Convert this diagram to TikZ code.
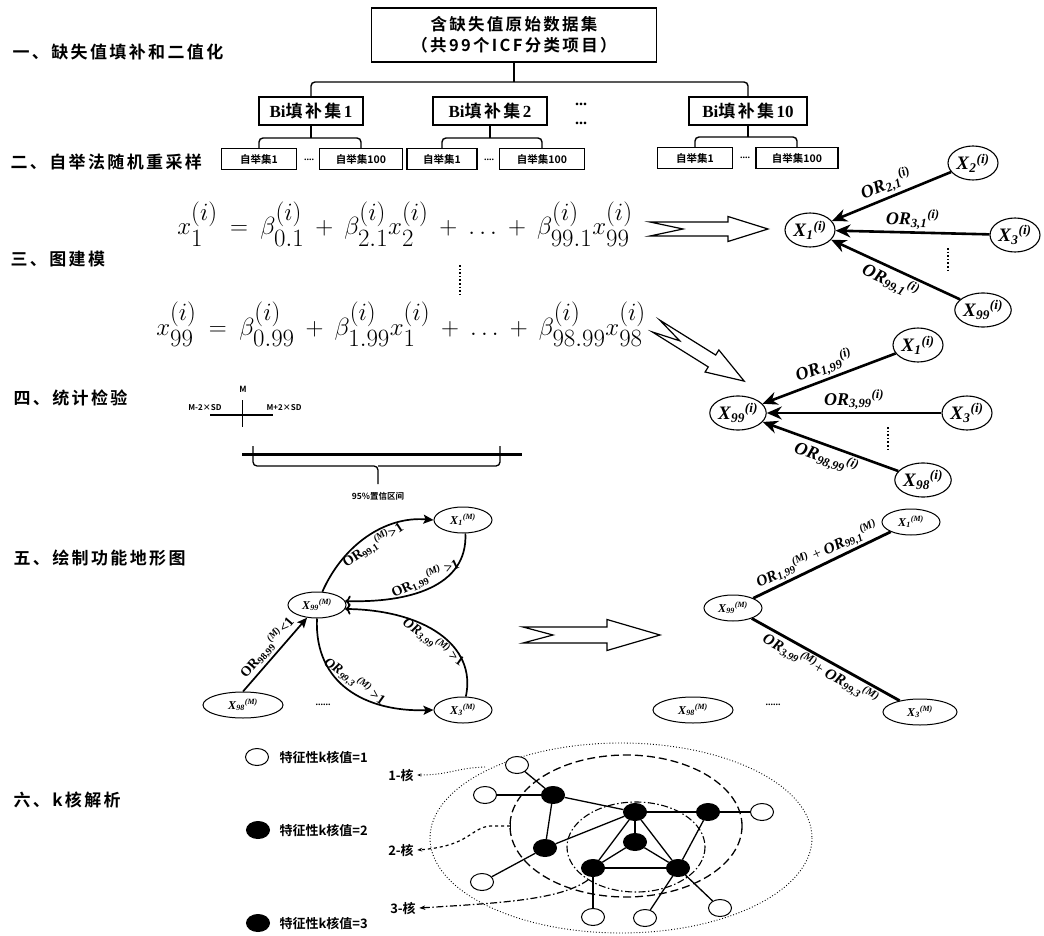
\documentclass[tikz,border=0pt]{standalone}
\usepackage{amsmath}
\usepackage{fontspec}
\setmainfont{Liberation Serif}
\newfontfamily\cjk{Noto Sans CJK SC}[BoldFont={Noto Sans CJK SC Bold}]
\newfontfamily\cjksec{Noto Sans CJK SC}[BoldFont={Noto Sans CJK SC Bold},LetterSpace=14]
\usetikzlibrary{arrows.meta,shapes.geometric,positioning}

% variable and odds-ratio labels
\newcommand\xv[2]{$\textbf{\textit{X}}_{\textbf{\textit{#1}}}{}^{\textbf{\textit{(#2)}}}$}
\newcommand\orv[2]{$\textbf{\textit{OR}}_{\textbf{\textit{#1}}}{}^{\textbf{\textit{(#2)}}}$}
\newcommand\oru[2]{$\textbf{OR}_{\textbf{#1}}{}^{\textbf{\textit{(#2)}}}$}
\newcommand\widemath{\medmuskip=8mu\relax\thickmuskip=9mu\relax}

\tikzset{
  seclabel/.style={anchor=west, font=\fontsize{17}{20}\cjksec\bfseries},
  rawbox/.style={draw, line width=1.5pt, minimum width=285pt, minimum height=54pt, align=center,
    font=\fontsize{16.5}{21}\cjksec\bfseries},
  bibox/.style={draw, line width=1.5pt, minimum height=28pt, inner xsep=4pt},
  bsbox/.style={draw, line width=1.3pt, minimum height=21pt, font=\fontsize{10.5}{10}\cjk\bfseries},
  bracket/.style={line width=1.4pt, rounded corners=4pt},
  hollow/.style={line width=1.2pt, fill=white, line join=miter},
  varnode/.style={draw, ellipse, line width=1.1pt, inner sep=0pt, minimum width=50pt, minimum height=34pt,
    font=\fontsize{19}{19}\selectfont},
  orarrow/.style={line width=2.6pt, {Stealth[length=15pt,width=13pt]}-},
  orlabel/.style={font=\fontsize{18}{18}\selectfont, inner sep=2pt},
  mnode/.style={draw, ellipse, line width=1pt, inner sep=0pt, minimum width=58pt, minimum height=26pt,
    font=\fontsize{12}{12}\selectfont},
  marrow/.style={line width=1.7pt, -{Stealth[length=10pt,width=9pt,inset=2pt]}},
  mlabel/.style={font=\fontsize{14}{14}\selectfont, inner sep=1.5pt},
  slabel/.style={font=\fontsize{15.5}{15}\selectfont, inner sep=1.5pt},
  sumline/.style={line width=2.8pt},
  eqn/.style={anchor=base, font=\fontsize{37}{40}\selectfont\widemath},
  kone/.style={draw, ellipse, line width=1pt, fill=white, minimum width=23pt, minimum height=17pt, inner sep=0pt},
  kcore/.style={kone, fill=black},
  kedge/.style={line width=1.3pt},
  legtext/.style={font=\fontsize{13}{13}\cjk\bfseries},
  dashdot/.style={dash pattern=on 7pt off 2.5pt on 1.5pt off 2.5pt},
}

\begin{document}
\begin{tikzpicture}[x=1pt, y=-1pt]
  \useasboundingbox (0,0) rectangle (1044,936);

  % section titles
  \node[seclabel] (s1) at (9,52) {一、缺失值填补和二值化};
  \node[seclabel] (s2) at (7,162) {二、自举法随机重采样};
  \node[seclabel] (s3) at (7,259) {三、图建模};
  \node[seclabel] (s4) at (10,398) {四、统计检验};
  \node[seclabel] (s5) at (10,558) {五、绘制功能地形图};
  \node[seclabel] (s6) at (10,800) {六、k核解析};

  % imputation tree
  \node[rawbox] (raw) at (514,35) {含缺失值原始数据集\\（共99个ICF分类项目）};
  \node[bibox, minimum width=104pt] (bi1) at (311,111) {\fontsize{17}{17}\selectfont\textbf{Bi}{\cjksec\bfseries 填补集}\textbf{1}};
  \node[bibox, minimum width=114pt] (bi2) at (490,111) {\fontsize{17}{17}\selectfont\textbf{Bi}{\cjksec\bfseries 填补集}\textbf{2}};
  \node[bibox, minimum width=118pt] (bi10) at (748,111) {\fontsize{17}{17}\selectfont\textbf{Bi}{\cjksec\bfseries 填补集}\textbf{10}};
  \coordinate (j0) at (514,82);
  \draw[bracket] (bi1.north) |- (j0) -| (bi10.north);
  \draw[bracket] (raw.south) -- (j0);
  \node[font=\bfseries\fontsize{16}{16}\selectfont] (more1) at (581,104) {...};
  \node[font=\bfseries\fontsize{16}{16}\selectfont] (more2) at (581,123) {...};

  % bootstrap samples
  \node[bsbox, minimum width=75pt] (bs11) at (259,159) {自举集1};
  \node[bsbox, minimum width=83pt] (bs12) at (361,159) {自举集100};
  \node[bsbox, minimum width=70pt] (bs21) at (442,159) {自举集1};
  \node[bsbox, minimum width=85pt] (bs22) at (542,159) {自举集100};
  \node[bsbox, minimum width=75pt] (bs31) at (695,158) {自举集1};
  \node[bsbox, minimum width=82pt] (bs32) at (797,158) {自举集100};
  \node[font=\bfseries] (dt1) at (309,160) {....};
  \node[font=\bfseries] (dt2) at (489,160) {....};
  \node[font=\bfseries] (dt3) at (745,158) {....};
  \coordinate (j1) at (311,138);
  \coordinate (j2) at (490,138);
  \coordinate (j3) at (748,137);
  \draw[bracket] (bs11.north) |- (j1) -| (bs12.north);
  \draw[bracket] (bi1.south) -- (j1);
  \draw[bracket] (bs21.north) |- (j2) -| (bs22.north);
  \draw[bracket] (bi2.south) -- (j2);
  \draw[bracket] (bs31.north) |- (j3) -| (bs32.north);
  \draw[bracket] (bi10.south) -- (j3);

  % regression equations
  \node[eqn] (eq1) at (405,235)
    {$x_1^{(i)}=\beta_{0.1}^{(i)}+\beta_{2.1}^{(i)}x_2^{(i)}+\ldots+\beta_{99.1}^{(i)}x_{99}^{(i)}$};
  \node[eqn] (eq2) at (401,335)
    {$x_{99}^{(i)}=\beta_{0.99}^{(i)}+\beta_{1.99}^{(i)}x_1^{(i)}+\ldots+\beta_{98.99}^{(i)}x_{98}^{(i)}$};
  \draw[dotted, line width=1.6pt] (460,265) -- (460,296);

  % hollow arrows
  \begin{scope}[shift={(650,229)}]
    \draw[hollow] (0,7) -- (78,7) -- (78,12.5) -- (118,0) -- (78,-12.5) -- (78,-7) -- (0,-7) -- (33,0) -- cycle;
  \end{scope}
  \begin{scope}[shift={(656,326)}, rotate=-32]
    \draw[hollow] (0,7) -- (66,7) -- (66,13) -- (104,0) -- (66,-13) -- (66,-7) -- (0,-7) -- (28,0) -- cycle;
  \end{scope}
  \begin{scope}[shift={(523,635)}]
    \draw[hollow] (0,8) -- (84,8) -- (84,15.5) -- (137,0) -- (84,-15.5) -- (84,-8) -- (0,-8) -- (30,0) -- cycle;
  \end{scope}

  % graph for X1
  \node[varnode] (a1) at (810,230) {\xv{1}{i}};
  \node[varnode] (a2) at (973,163) {\xv{2}{i}};
  \node[varnode] (a3) at (1015,235) {\xv{3}{i}};
  \node[varnode] (a99) at (983,310) {\xv{99}{i}};
  \draw[orarrow] (a1) -- node[orlabel, sloped, above] {\orv{2,1}{i}} (a2);
  \draw[orarrow] (a1) -- node[orlabel, sloped, above] {\orv{3,1}{i}} (a3);
  \draw[orarrow] (a1) -- node[orlabel, sloped, below] {\orv{99,1}{i}} (a99);
  \draw[dotted, line width=1.6pt] (948,248) -- (948,271);

  % graph for X99
  \node[varnode] (b99) at (738,413) {\xv{99}{i}};
  \node[varnode] (b1) at (918,345) {\xv{1}{i}};
  \node[varnode] (b3) at (967,413) {\xv{3}{i}};
  \node[varnode] (b98) at (923,480) {\xv{98}{i}};
  \draw[orarrow] (b99) -- node[orlabel, sloped, above] {\orv{1,99}{i}} (b1);
  \draw[orarrow] (b99) -- node[orlabel, sloped, above] {\orv{3,99}{i}} (b3);
  \draw[orarrow] (b99) -- node[orlabel, sloped, below] {\orv{98,99}{i}} (b98);
  \draw[dotted, line width=1.6pt] (888,427) -- (888,449);

  % statistical test
  \node[font=\fontsize{8.5}{8}\cjk\bfseries] (mlab) at (243,389) {M};
  \node[font=\fontsize{8}{8}\cjk\bfseries] (mlo) at (205,408) {M-2×SD};
  \node[font=\fontsize{8}{8}\cjk\bfseries] (mhi) at (284,408) {M+2×SD};
  \draw[line width=2.4pt] (210,415) -- (273,415);
  \draw[line width=1pt] (242,400) -- (242,427);
  \draw[line width=3pt] (242,454) -- (522,454);
  \draw[line width=1.3pt, rounded corners=4pt] (253,446) |- (378,466) -- (378,484);
  \draw[line width=1.3pt, rounded corners=4pt] (500,446) |- (378,466);
  \node[font=\fontsize{8.5}{8}\cjk\bfseries] (ci) at (378,496) {95\%置信区间};

  % functional map, directed
  \node[mnode] (m1) at (463,520) {\xv{1}{M}};
  \node[mnode] (m99) at (317,605) {\xv{99}{M}};
  \node[mnode, minimum width=80pt] (m98) at (243,705) {\xv{98}{M}};
  \node[mnode] (m3) at (463,710) {\xv{3}{M}};
  \node[font=\bfseries] (mdots) at (323,705) {......};
  \draw[marrow] (m99.68) .. controls (343,545) and (385,516) .. node[mlabel, sloped, below] {\oru{99,1}{M}\textbf{>1}} (m1.west);
  \draw[marrow, <-] (m99.8) .. controls (408,603) and (468,587) .. node[mlabel, sloped, above] {\oru{1,99}{M}\textbf{ >1}} (m1.-80);
  \draw[marrow, <-] (m99.-8) .. controls (424,610) and (477,645) .. node[mlabel, sloped, below] {\orv{3,99}{M}\textbf{ >1}} (m3.78);
  \draw[marrow] (m99.south) .. controls (314,684) and (366,712) .. node[mlabel, sloped, above] {\orv{99,3}{M}\textbf{ >1}} (m3.west);
  \draw[marrow] (m98.north) -- node[mlabel, sloped, above] {\oru{98,99}{M}\textbf{<1}} (m99.232);

  % functional map, summed
  \node[mnode] (r1) at (911,522) {\xv{1}{M}};
  \node[mnode] (r99) at (733,608) {\xv{99}{M}};
  \node[mnode, minimum width=80pt] (r98) at (693,710) {\xv{98}{M}};
  \node[mnode, minimum width=74pt] (r3) at (920,712) {\xv{3}{M}};
  \node[font=\bfseries] (rdots) at (773,705) {......};
  \draw[sumline] (r99) -- node[slabel, sloped, above] {\orv{1,99}{M} + \orv{99,1}{M}} (r1);
  \draw[sumline] (r99) -- node[slabel, sloped, below] {\orv{3,99}{M}+ \orv{99,3}{M}} (r3);

  % k-core legend
  \node[kone] (l1) at (257,757) {};
  \node[kcore] (l2) at (258,830) {};
  \node[kcore] (l3) at (258,923) {};
  \node[legtext, anchor=west] (t1) at (276,757) {特征性k核值=1};
  \node[legtext, anchor=west] (t2) at (276,830) {特征性k核值=2};
  \node[legtext, anchor=west] (t3) at (276,923) {特征性k核值=3};

  % k-core shells
  \draw[dotted, line width=0.9pt] (621,838) ellipse [x radius=191, y radius=95];
  \draw[dashed, dash pattern=on 8pt off 4pt, line width=1.3pt] (626,826) ellipse [x radius=116, y radius=71];
  \draw[dashdot, line width=1.1pt] (636,847) ellipse [x radius=69, y radius=45];

  % k-core graph
  \node[kone] (w1) at (517,765) {};
  \node[kone] (w2) at (485,795) {};
  \node[kone] (w3) at (482,882) {};
  \node[kone] (w4) at (593,917) {};
  \node[kone] (w5) at (645,918) {};
  \node[kone] (w6) at (720,908) {};
  \node[kone] (w7) at (762,812) {};
  \node[kcore] (c1) at (553,795) {};
  \node[kcore] (c2) at (545,848) {};
  \node[kcore] (c3) at (635,812) {};
  \node[kcore] (c4) at (708,812) {};
  \node[kcore] (c5) at (635,842) {};
  \node[kcore] (c6) at (593,868) {};
  \node[kcore] (c7) at (678,868) {};
  \draw[kedge] (w1) -- (c1);
  \draw[kedge] (w2) -- (c1);
  \draw[kedge] (c1) -- (c3);
  \draw[kedge] (c1) -- (c2);
  \draw[kedge] (c2) -- (w3);
  \draw[kedge] (c2) -- (c3);
  \draw[kedge] (c3) -- (c4);
  \draw[kedge] (c4) -- (w7);
  \draw[kedge] (c4) -- (c7);
  \draw[kedge] (c3) -- (c5);
  \draw[kedge] (c3) -- (c6);
  \draw[kedge] (c3) -- (c7);
  \draw[kedge] (c5) -- (c6);
  \draw[kedge] (c5) -- (c7);
  \draw[kedge] (c6) -- (c7);
  \draw[kedge] (c6) -- (w4);
  \draw[kedge] (c7) -- (w5);
  \draw[kedge] (c7) -- (w6);

  % shell labels
  \node[legtext] (k1) at (401,775) {1-核};
  \node[legtext] (k2) at (401,850) {2-核};
  \node[legtext] (k3) at (403,908) {3-核};
  \coordinate (e1) at (485,767);
  \coordinate (e2) at (510,826);
  \coordinate (e3) at (588,880);
  \draw[dotted, line width=0.9pt, -{Stealth[length=4pt]}] (e1) .. controls (455,768) and (450,775) .. (k1.east);
  \draw[dashed, line width=1.2pt, -{Stealth[length=5pt]}] (e2) -- (490,826) .. controls (470,828) and (470,846) .. (k2.east);
  \draw[line width=1pt] (510,820) -- (510,832);
  \draw[dashdot, line width=1.2pt, -{Stealth[length=6pt]}] (e3) .. controls (560,900) and (500,903) .. (k3.east);
\end{tikzpicture}
\end{document}
